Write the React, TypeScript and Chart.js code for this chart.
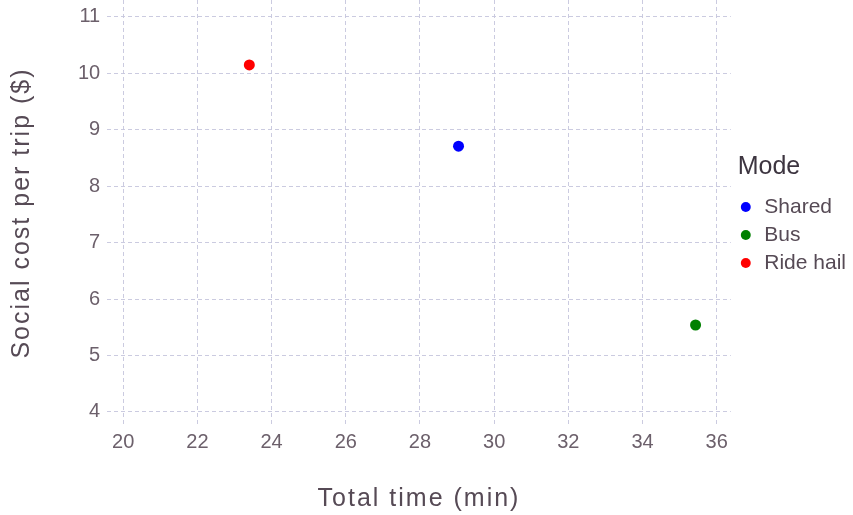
import React, { useEffect, useRef } from "react";
import { Chart, registerables } from "chart.js";

Chart.register(...registerables);

const modes = ["Shared", "Bus", "Ride hail"];
const totalTime = [29.04, 35.43, 23.4];
const socialCost = [8.71, 5.54, 10.15];
const colors = ["#0000ff", "#008000", "#ff0000"];
const xTicks = [20, 22, 24, 26, 28, 30, 32, 34, 36];
const yTicks = [4, 5, 6, 7, 8, 9, 10, 11];

const spacedTitles = {
  id: "spacedTitles",
  afterLayout(chart: any) {
    Object.values(chart.scales).forEach((s: any) => {
      if (s._spacedPatched) return;
      const orig = s.drawTitle.bind(s);
      s.drawTitle = function () {
        const ctx = s.ctx;
        ctx.save();
        ctx.letterSpacing = "2px";
        orig();
        ctx.restore();
      };
      s._spacedPatched = true;
    });
    const lg: any = chart.legend;
    if (lg && !lg._spacedPatched && lg._drawTitle) {
      const o = lg._drawTitle.bind(lg);
      lg._drawTitle = function () {
        const ctx = lg.ctx;
        ctx.save();
        ctx.letterSpacing = "2.2px";
        o();
        ctx.restore();
      };
      lg._spacedPatched = true;
    }
  },
};

export default function App() {
  const ref = useRef<HTMLCanvasElement | null>(null);
  useEffect(() => {
    if (!ref.current) return;
    const font = "'Liberation Sans', Arial, Helvetica, sans-serif";
    const gridColor = "rgba(200,200,222,0.95)";
    const tickColor = "#6c606b";
    const titleColor = "#564a55";
    const chart = new Chart(ref.current, {
      type: "scatter",
      data: {
        datasets: modes.map((m, i) => ({
          label: m,
          data: [{ x: totalTime[i], y: socialCost[i] }],
          backgroundColor: colors[i],
          borderColor: colors[i],
          pointRadius: 5.5,
          pointHoverRadius: 5.5,
          pointBorderWidth: 0,
        })),
      },
      plugins: [spacedTitles],
      options: {
        animation: false,
        responsive: false,
        maintainAspectRatio: false,
        layout: { autoPadding: false, padding: { left: 0, right: -3, top: 0, bottom: 0 } },
        scales: {
          x: {
            type: "linear",
            min: 19.57,
            max: 36.38,
            afterBuildTicks: (s: any) => {
              s.ticks = xTicks.map((v) => ({ value: v }));
            },
            ticks: { font: { family: font, size: 20 }, color: tickColor, padding: 4, includeBounds: false },
            grid: { color: gridColor, drawTicks: false },
            border: { display: false, dash: [4, 3] },
            title: { display: true, text: "Total time (min)", font: { family: font, size: 25 }, color: titleColor, padding: { top: 26, bottom: 1 } },
          },
          y: {
            type: "linear",
            min: 3.75,
            max: 11.3,
            afterBuildTicks: (s: any) => {
              s.ticks = yTicks.map((v) => ({ value: v }));
            },
            afterFit: (s: any) => {
              s.paddingTop = 0;
              s.paddingBottom = 0;
            },
            ticks: { font: { family: font, size: 20 }, color: tickColor, padding: 7, includeBounds: false },
            grid: { color: gridColor, drawTicks: false },
            border: { display: false, dash: [4, 3] },
            title: { display: true, text: "Social cost per trip ($)", font: { family: font, size: 25 }, color: titleColor, padding: { top: 7, bottom: 34 } },
          },
        },
        plugins: {
          legend: {
            position: "right",
            align: "center",
            fullSize: false,
            title: { display: true, text: " Mode", position: "start", font: { family: font, size: 25 }, color: "#3d3540", padding: { top: 9, bottom: 5 } },
            labels: {
              usePointStyle: true,
              pointStyle: "circle",
              boxWidth: 16,
              boxHeight: 7,
              padding: 7,
              font: { family: font, size: 21 },
              color: titleColor,
            },
          },
          tooltip: { enabled: false },
        },
      },
    });
    return () => chart.destroy();
  }, []);
  return (
    <div style={{ position: "fixed", left: 0, top: 0, width: 853, height: 515, background: "#fff" }}>
      <canvas ref={ref} width={853} height={515} />
    </div>
  );
}
